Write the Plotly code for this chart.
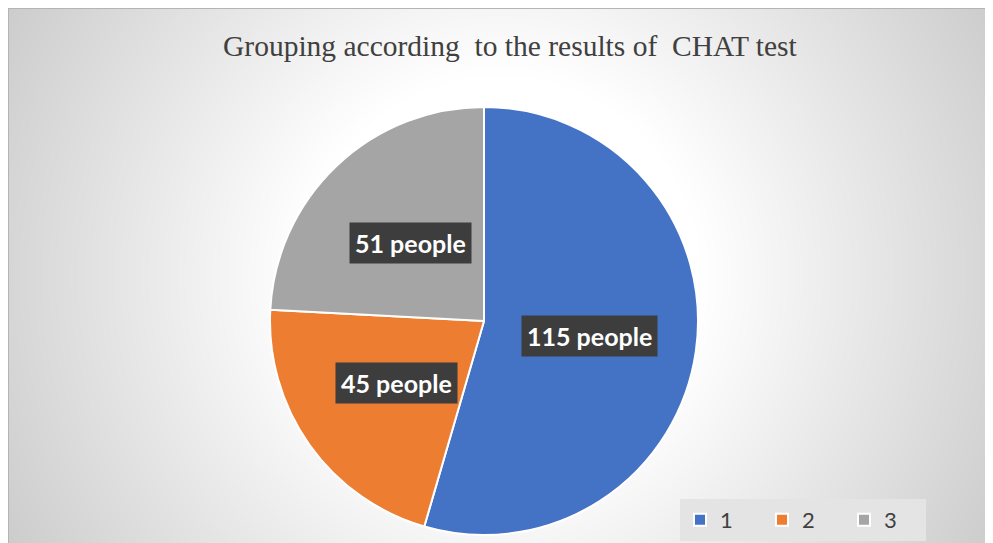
import math
import numpy as np
import plotly.graph_objects as go

categories = ["1", "2", "3"]
values = [115, 45, 51]
label_texts = ["115 people", "45 people", "51 people"]
colors = ["#4472C4", "#ED7D31", "#A5A5A5"]
title_text = "Grouping according\u00a0 to the results of\u00a0 CHAT test"

W, H = 985, 535
cx_px, cy_px, r_px = 476, 313, 214

fig = go.Figure()

# radial gradient background as a smooth heatmap on hidden axes
gx = np.linspace(0, W, 80)
gy = np.linspace(0, H, 45)
GX, GY = np.meshgrid(gx, gy)
R = np.sqrt((GX - 492) ** 2 + (GY - 267) ** 2)
Z = np.clip(232 - 0.14 * (R - 362), 196, 255)
fig.add_trace(go.Heatmap(x=gx, y=gy, z=Z, zmin=196, zmax=255, zsmooth="best",
                         colorscale=[[0, "rgb(196,196,196)"], [1, "rgb(255,255,255)"]],
                         showscale=False, hoverinfo="skip", showlegend=False))

fig.add_trace(go.Pie(
    labels=categories, values=values, sort=False, direction="clockwise",
    rotation=0, marker=dict(colors=colors, line=dict(color="white", width=2)),
    textinfo="none", hoverinfo="label+value",
    domain=dict(x=[(cx_px - r_px) / W, (cx_px + r_px) / W],
                y=[1 - (cy_px + r_px) / H, 1 - (cy_px - r_px) / H]),
))

shapes = [dict(type="line", xref="paper", yref="paper", x0=0.5 / W, x1=1, y0=1 - 0.5 / H, y1=1 - 0.5 / H,
               line=dict(color="#b4b4b4", width=1)),
          dict(type="line", xref="paper", yref="paper", x0=0.5 / W, x1=0.5 / W, y0=0, y1=1,
               line=dict(color="#b4b4b4", width=1))]

# data labels at slice mid-angles
annotations = []
total = sum(values)
cum = 0
for v, t in zip(values, label_texts):
    mid = (cum + v / 2) / total * 2 * math.pi
    cum += v
    px = cx_px + 0.5 * r_px * math.sin(mid)
    py = cy_px - 0.5 * r_px * math.cos(mid)
    annotations.append(dict(x=px / W, y=1 - py / H, xref="paper", yref="paper",
                            xanchor="center", yanchor="middle",
                            text="<b>" + t + "</b>", showarrow=False,
                            font=dict(color="white", size=25, family="Lato"),
                            bgcolor="#3d3d3d", borderpad=5))

annotations.append(dict(x=502 / W, y=1 - 38 / H, xref="paper", yref="paper",
                        xanchor="center", yanchor="middle",
                        text=title_text, showarrow=False,
                        font=dict(family="Liberation Serif", size=29.5, color="#404040")))

fig.update_layout(
    width=W, height=H, margin=dict(l=0, r=0, t=0, b=0),
    paper_bgcolor="white", plot_bgcolor="white",
    xaxis=dict(range=[0, W], visible=False, fixedrange=True, domain=[0, 1]),
    yaxis=dict(range=[H, 0], visible=False, fixedrange=True, domain=[0, 1]),
    shapes=shapes, annotations=annotations,
    showlegend=True,
    legend=dict(orientation="h", x=672 / W, y=1 - 491 / H, xanchor="left", yanchor="top",
                bgcolor="#e4e4e4", font=dict(family="Lato", size=22, color="#404040"),
                entrywidth=37, entrywidthmode="pixels", itemwidth=30,
                traceorder="normal"),
)

fig.write_html("out.html")
